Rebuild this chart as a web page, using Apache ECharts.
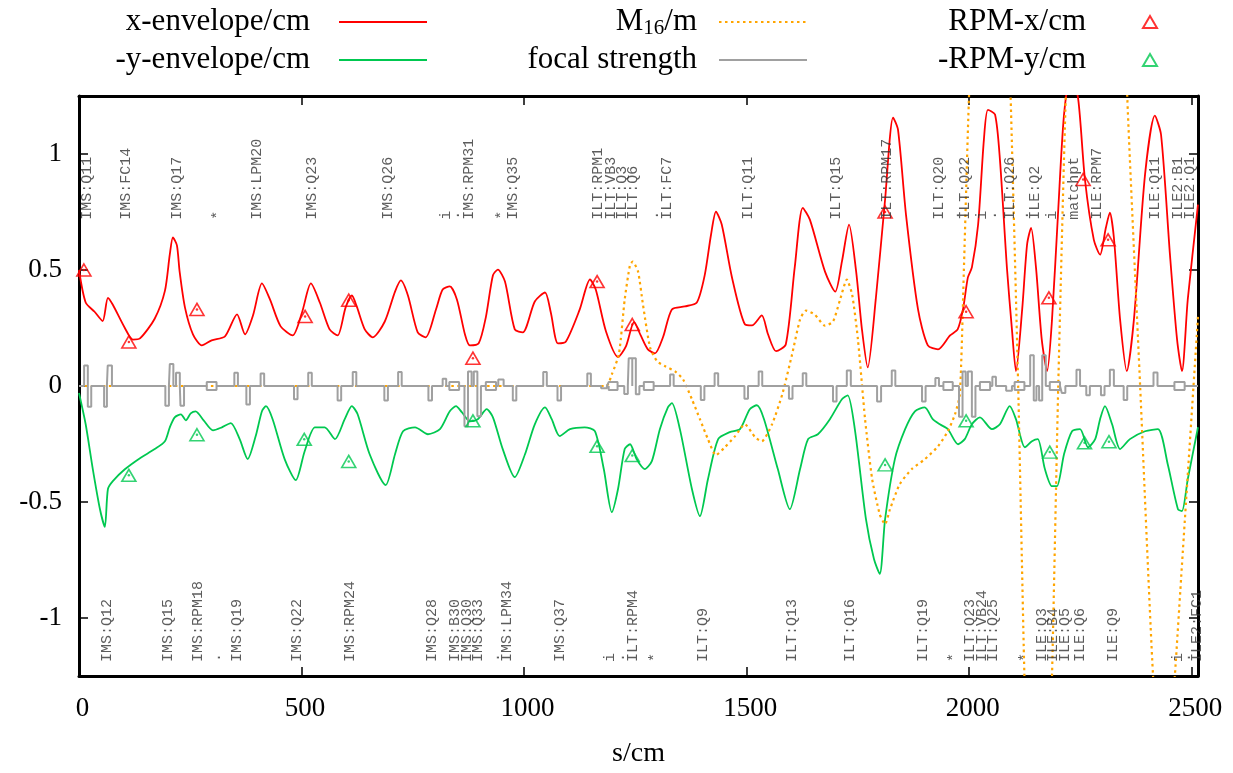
<!DOCTYPE html>
<html><head><meta charset="utf-8">
<script src="https://cdn.jsdelivr.net/npm/echarts@6/dist/echarts.min.js"></script>
<style>html,body{margin:0;padding:0;background:#fff}#c{width:1233px;height:773px}</style>
</head><body><div id="c"></div>
<script>
// ---------- data (s in cm) ----------
const xEnvelope = [[0,0.50],[15,0.36],[35,0.32],[53,0.28],[65,0.38],[76,0.35],[103,0.25],[121,0.20],[137,0.205],[170,0.29],[193,0.41],[204,0.567],[211,0.64],[220,0.606],[226,0.494],[238,0.339],[256,0.223],[276,0.175],[298,0.197],[328,0.214],[355,0.309],[373,0.223],[391,0.305],[411,0.442],[429,0.373],[453,0.257],[480,0.218],[501,0.317],[521,0.442],[541,0.36],[563,0.244],[581,0.218],[599,0.339],[613,0.39],[624,0.343],[642,0.244],[660,0.21],[687,0.278],[710,0.407],[723,0.455],[739,0.39],[761,0.231],[779,0.21],[802,0.33],[817,0.416],[833,0.429],[849,0.373],[867,0.223],[878,0.175],[898,0.184],[914,0.296],[930,0.477],[941,0.502],[957,0.45],[979,0.244],[997,0.231],[1024,0.364],[1047,0.403],[1060,0.317],[1076,0.184],[1094,0.192],[1125,0.33],[1148,0.459],[1161,0.416],[1184,0.235],[1211,0.125],[1229,0.172],[1247,0.275],[1262,0.218],[1278,0.158],[1294,0.141],[1312,0.21],[1332,0.33],[1361,0.343],[1388,0.36],[1406,0.48],[1420,0.653],[1431,0.751],[1444,0.696],[1467,0.468],[1496,0.266],[1512,0.261],[1534,0.304],[1548,0.223],[1566,0.15],[1588,0.18],[1608,0.511],[1626,0.768],[1642,0.717],[1676,0.493],[1699,0.407],[1714,0.536],[1730,0.696],[1746,0.493],[1759,0.244],[1772,0.08],[1790,0.373],[1811,0.804],[1829,1.157],[1840,1.105],[1858,0.738],[1885,0.33],[1907,0.175],[1930,0.158],[1957,0.218],[1974,0.244],[1986,0.33],[1997,0.468],[2006,0.511],[2020,0.696],[2033,1.062],[2042,1.19],[2058,1.17],[2069,0.976],[2085,0.502],[2096,0.244],[2105,0.064],[2119,0.33],[2130,0.61],[2139,0.682],[2150,0.511],[2163,0.2],[2175,0.064],[2186,0.286],[2200,0.76],[2213,1.17],[2229,1.363],[2245,1.234],[2260,0.89],[2280,0.63],[2294,0.566],[2307,0.682],[2316,0.747],[2325,0.64],[2339,0.286],[2354,0.064],[2370,0.286],[2395,0.911],[2417,1.165],[2431,1.083],[2451,0.566],[2467,0.2],[2478,0.064],[2491,0.373],[2514,0.782]];

const yEnvelope = [[0,-0.03],[15,-0.165],[31,-0.358],[47,-0.53],[58,-0.607],[65,-0.444],[76,-0.41],[103,-0.359],[137,-0.311],[170,-0.272],[193,-0.238],[204,-0.178],[215,-0.135],[229,-0.122],[240,-0.148],[251,-0.118],[262,-0.109],[280,-0.148],[301,-0.191],[321,-0.178],[341,-0.16],[361,-0.229],[379,-0.315],[397,-0.216],[411,-0.109],[420,-0.087],[435,-0.143],[462,-0.315],[487,-0.406],[507,-0.281],[530,-0.178],[552,-0.178],[575,-0.229],[597,-0.143],[613,-0.087],[626,-0.122],[653,-0.294],[689,-0.427],[710,-0.294],[728,-0.195],[755,-0.178],[784,-0.208],[811,-0.186],[833,-0.109],[847,-0.087],[860,-0.113],[878,-0.152],[896,-0.143],[916,-0.1],[930,-0.135],[952,-0.272],[979,-0.393],[1002,-0.294],[1024,-0.165],[1047,-0.092],[1062,-0.143],[1080,-0.216],[1103,-0.186],[1136,-0.178],[1159,-0.195],[1179,-0.358],[1197,-0.544],[1211,-0.444],[1226,-0.272],[1238,-0.251],[1253,-0.316],[1271,-0.358],[1287,-0.324],[1305,-0.186],[1323,-0.092],[1332,-0.074],[1350,-0.186],[1377,-0.444],[1395,-0.561],[1413,-0.402],[1436,-0.229],[1462,-0.199],[1485,-0.186],[1507,-0.1],[1523,-0.083],[1539,-0.143],[1570,-0.358],[1597,-0.531],[1620,-0.358],[1638,-0.229],[1660,-0.208],[1687,-0.143],[1714,-0.057],[1727,-0.04],[1743,-0.186],[1768,-0.574],[1786,-0.746],[1799,-0.81],[1811,-0.574],[1833,-0.315],[1856,-0.186],[1878,-0.109],[1900,-0.092],[1918,-0.143],[1934,-0.165],[1952,-0.186],[1975,-0.251],[1990,-0.229],[2006,-0.165],[2024,-0.135],[2051,-0.186],[2069,-0.165],[2091,-0.087],[2105,-0.143],[2125,-0.264],[2141,-0.238],[2154,-0.229],[2170,-0.358],[2186,-0.432],[2197,-0.432],[2213,-0.294],[2231,-0.195],[2249,-0.186],[2267,-0.264],[2283,-0.229],[2294,-0.143],[2305,-0.087],[2321,-0.165],[2339,-0.272],[2361,-0.229],[2395,-0.195],[2424,-0.186],[2446,-0.337],[2469,-0.531],[2478,-0.539],[2491,-0.402],[2514,-0.178]];

const m16 = [[0,0],[1184,0],[1197,0.05],[1213,0.137],[1226,0.373],[1238,0.523],[1244,0.536],[1256,0.493],[1267,0.351],[1283,0.166],[1299,0.106],[1317,0.085],[1339,0.063],[1357,0.029],[1377,-0.057],[1395,-0.143],[1413,-0.229],[1431,-0.298],[1451,-0.264],[1474,-0.216],[1496,-0.165],[1519,-0.221],[1534,-0.238],[1557,-0.165],[1580,-0.036],[1602,0.136],[1620,0.287],[1633,0.325],[1653,0.308],[1676,0.26],[1694,0.278],[1710,0.373],[1725,0.459],[1737,0.394],[1750,0.201],[1766,-0.143],[1782,-0.402],[1799,-0.553],[1811,-0.596],[1822,-0.531],[1844,-0.423],[1871,-0.358],[1900,-0.316],[1930,-0.26],[1952,-0.195],[1968,-0.122],[1979,-0.036],[1988,0.5],[1997,1.1],[2006,1.6],[2025,2.4],[2050,2.7],[2075,2.4],[2093,1.25],[2110,0],[2124,-1.25],[2140,-2.3],[2155,-2.6],[2170,-2.3],[2186,-1.25],[2200,0],[2217,1.25],[2250,3.0],[2287,3.8],[2325,3.0],[2355,1.25],[2384,0],[2413,-1.25],[2438,-1.9],[2462,-1.25],[2478,-0.77],[2514,0.3]];

// quadrupoles: [start, end, strength]
const quads = [[11.5,19.8,0.088],[19.8,27.5,-0.089],[56.4,62.7,-0.089],[64.5,74,0.088],[194,202,-0.085],[204,212,0.095],[218,226.5,0.057],[228,236,-0.085],[349,357,0.057],[376,384,-0.08],[408,416,0.054],[483,491,-0.057],[515,523,0.057],[581,589,-0.062],[615,623,0.06],[686,694,-0.062],[717,725,0.06],[785,793,-0.062],[817,825,0.031],[866,874,-0.174],[874,882,0.062],[887,895,0.062],[895,903,-0.13],[942,954,0.028],[974.6,982.5,-0.062],[1043,1051,0.06],[1075,1083,-0.062],[1142,1150,0.054],[1173,1186,-0.01],[1225,1233,-0.034],[1235,1243,0.12],[1243,1251,0.12],[1251,1259,-0.036],[1328,1336,0.05],[1397,1405,-0.06],[1428,1436,0.055],[1495,1503,-0.055],[1527,1535,0.063],[1595,1603,-0.055],[1626,1634,0.055],[1694,1702,-0.067],[1725,1734,0.067],[1793,1802,-0.067],[1826,1834,0.067],[1894,1902,-0.067],[1924,1932,0.034],[1977,1985,-0.133],[1985,1992,0.063],[1997,2006,0.063],[2006,2014,-0.133],[2052,2060,0.04],[2083,2096,-0.02],[2137,2145,0.133],[2145,2151,-0.063],[2157,2164,-0.063],[2164,2172,0.133],[2208,2216,-0.03],[2241,2249,0.07],[2263,2271,-0.04],[2296,2304,-0.04],[2316,2325,0.07],[2347,2355,-0.06],[2414,2423,0.058]];
// bends: [start, end]
const bends = [[287,309],[832,854],[914,937],[1190,1210],[1269,1291],[1942,1963],[2024,2047],[2102,2124],[2181,2204],[2461,2484]];
const bendHalfHeight = 0.017;

const rpmX = [[11,0.50],[112,0.19],[265,0.33],[508,0.30],[606,0.37],[885,0.12],[1164,0.45],[1243,0.265],[1811,0.75],[1993,0.32],[2179,0.38],[2256,0.89],[2312,0.63]];
const rpmY = [[112,-0.385],[265,-0.21],[506,-0.23],[606,-0.325],[885,-0.15],[1164,-0.26],[1243,-0.30],[1811,-0.34],[1993,-0.15],[2181,-0.285],[2259,-0.245],[2314,-0.24]];

const topLabelPos  = [17.5,105,220,312,399,523,694,824,845,876,950,975,1166,1195,1220,1244,1292,1321,1503,1701,1815,1932,1968,1990,2029,2052,2092,2124,2148,2186,2207,2236,2287,2418,2469,2496];
const topLabelText = ['IMS:Q11','IMS:FC14','IMS:Q17','*','IMS:LPM20','IMS:Q23','IMS:Q26','i','.','IMS:RPM31','*','IMS:Q35','ILT:RPM1','ILT:VB3','ILT:Q3','ILT:Q6','.','ILT:FC7','ILT:Q11','ILT:Q15','ILT:RPM17','ILT:Q20','.','ILT:Q22','i','.','ILT:Q26','.','ILE:Q2','i','.','matchpt','ILE:RPM7','ILE:Q11','ILE2:B1','ILE2:Q1'];
const topLabelY = 0.717;
const botLabelPos  = [62.5,200,267,308,355,489,608,793,845,871,896,935,961,1080,1193,1216,1244,1294,1402,1602,1732,1896,1966,2002,2029,2053,2125,2164,2188,2215,2249,2323,2469,2487,2512];
const botLabelText = ['IMS:Q12','IMS:Q15','IMS:RPM18','.','IMS:Q19','IMS:Q22','IMS:RPM24','IMS:Q28','IMS:B30','IMS:Q30','IMS:Q33','.','IMS:LPM34','IMS:Q37','i','.','ILT:RPM4','*','ILT:Q9','ILT:Q13','ILT:Q16','ILT:Q19','*','ILT:Q23','ILT:VB24','ILT:Q25','*','ILE:Q3','ILE:B4','ILE:Q5','ILE:Q6','ILE:Q9','i','.','ILE2:FC1'];
const botLabelY = -1.19;

const sMin = 0, sMax = 2514, yMin = -1.25, yMax = 1.25;

// ---------- build focal-strength polyline ----------
const elems = quads.map(q => ({s0:q[0], s1:q[1], k:q[2], box:false}))
  .concat(bends.map(b => ({s0:b[0], s1:b[1], box:true})))
  .sort((a,b) => a.s0 - b.s0);
const focal = [[sMin,0]];
elems.forEach(e => {
  if (e.box) {
    const h = bendHalfHeight;
    focal.push([e.s0,0],[e.s0,h],[e.s1,h],[e.s1,-h],[e.s0,-h],[e.s0,0],[e.s0,'-'],[e.s1,0]);
  } else {
    focal.push([e.s0,0],[e.s0,e.k],[e.s1,e.k],[e.s1,0]);
  }
});
focal.push([sMax,0]);

const mkLabels = (pos, txt, y) => pos.map((s,i) => ({name: txt[i], value:[s, y]}));

const SERIF = "'Liberation Serif','Times New Roman',serif";
const RED = '#ff0000', GREEN = '#00c850', ORANGE = '#ffa500', GRAY = '#a0a0a0';

const tickStyle = {show:true, inside:true, length:9, lineStyle:{color:'#000', width:1.5}};
const lineAxis = {show:true, onZero:false, lineStyle:{color:'#000', width:3}};

const legendBase = {orient:'horizontal', align:'right', padding:0, itemGap:0, selectedMode:false,
  itemWidth:88, itemHeight:14};
const legText = (pad) => ({fontFamily:SERIF, fontSize:31, color:'#000', lineHeight:34, padding:[0,pad,0,0],
  rich:{sub:{fontFamily:SERIF, fontSize:21, lineHeight:8, verticalAlign:'bottom', padding:[0,0,0,0]}}});
const hideSym = {itemStyle:{opacity:0}};

const option = {
  animation:false,
  backgroundColor:'#fff',
  grid:{left:79, right:35, top:96, bottom:96, containLabel:false},
  legend:[
    Object.assign({}, legendBase, hideSym, {data:['x-envelope/cm'], right:805, top:5, textStyle:legText(24)}),
    Object.assign({}, legendBase, hideSym, {data:['-y-envelope/cm'], right:805, top:43, textStyle:legText(24)}),
    Object.assign({}, legendBase, hideSym, {data:['M16/m'], right:425, top:5, textStyle:legText(17),
      formatter: n => 'M{sub|16}/m'}),
    Object.assign({}, legendBase, hideSym, {data:['focal strength'], right:425, top:43, textStyle:legText(17)}),
    Object.assign({}, legendBase, {data:['RPM-x/cm'], right:75, top:5, itemWidth:14, itemHeight:12, textStyle:legText(52)}),
    Object.assign({}, legendBase, {data:['-RPM-y/cm'], right:75, top:43, itemWidth:14, itemHeight:12, textStyle:legText(52)})
  ],
  xAxis:[
    {type:'value', min:sMin, max:sMax, position:'bottom',
     axisLine:lineAxis, axisTick:tickStyle, splitLine:{show:false},
     axisLabel:{fontFamily:SERIF, fontSize:27, color:'#000', margin:19, padding:[0,0,0,7],
       formatter: v => (v % 500 === 0 ? String(v) : '')},
     name:'s/cm', nameLocation:'middle', nameGap:64,
     nameTextStyle:{fontFamily:SERIF, fontSize:28, color:'#000'}},
    {type:'value', min:sMin, max:sMax, position:'top',
     axisLine:lineAxis, axisTick:tickStyle, splitLine:{show:false}, axisLabel:{show:false}}
  ],
  yAxis:[
    {type:'value', min:yMin, max:yMax, position:'left',
     axisLine:lineAxis, axisTick:tickStyle, splitLine:{show:false},
     axisLabel:{fontFamily:SERIF, fontSize:27, color:'#000', margin:17,
       formatter: v => (Math.abs(v*2 - Math.round(v*2)) < 1e-9 ? String(v) : '')}},
    {type:'value', min:yMin, max:yMax, position:'right',
     axisLine:lineAxis, axisTick:tickStyle, splitLine:{show:false}, axisLabel:{show:false}}
  ],
  series:[
    {name:'x-envelope/cm', type:'line', data:xEnvelope, symbol:'none', smooth:0.25,
     lineStyle:{color:RED, width:1.8}, itemStyle:{color:RED}, z:3},
    {name:'-y-envelope/cm', type:'line', data:yEnvelope, symbol:'none', smooth:0.25,
     lineStyle:{color:GREEN, width:1.8}, itemStyle:{color:GREEN}, z:3},
    {name:'M16/m', type:'line', data:m16, symbol:'none', smooth:0.2,
     lineStyle:{color:ORANGE, width:2.2, type:[2.5,3.5]}, itemStyle:{color:ORANGE}, z:4},
    {name:'focal strength', type:'line', data:focal, symbol:'none', connectNulls:false,
     lineStyle:{color:GRAY, width:2}, itemStyle:{color:GRAY}, z:5},
    {name:'RPM-x/cm', type:'scatter', data:rpmX, symbol:'triangle', symbolSize:[14,12],
     itemStyle:{color:'rgba(255,255,255,0)', borderColor:RED, borderWidth:1.6}, z:6},
    {name:'-RPM-y/cm', type:'scatter', data:rpmY, symbol:'triangle', symbolSize:[14,12],
     itemStyle:{color:'rgba(255,255,255,0)', borderColor:GREEN, borderWidth:1.6}, z:6},
    {name:'rpmXdot', type:'scatter', data:rpmX, symbol:'circle', symbolSize:2.5,
     itemStyle:{color:RED}, z:6, silent:true},
    {name:'rpmYdot', type:'scatter', data:rpmY, symbol:'circle', symbolSize:2.5,
     itemStyle:{color:GREEN}, z:6, silent:true},
    {name:'topLabels', type:'scatter', data:mkLabels(topLabelPos, topLabelText, topLabelY),
     symbolSize:0.1, itemStyle:{color:'rgba(0,0,0,0)'}, silent:true, z:7,
     label:{show:true, position:'inside', rotate:90, align:'left', verticalAlign:'middle',
       formatter:'{b}', fontFamily:"'Liberation Mono',monospace", fontSize:15, color:'#333'}},
    {name:'botLabels', type:'scatter', data:mkLabels(botLabelPos, botLabelText, botLabelY),
     symbolSize:0.1, itemStyle:{color:'rgba(0,0,0,0)'}, silent:true, z:7,
     label:{show:true, position:'inside', rotate:90, align:'left', verticalAlign:'middle',
       formatter:'{b}', fontFamily:"'Liberation Mono',monospace", fontSize:15, color:'#333'}}
  ]
};
const chart = echarts.init(document.getElementById('c'), null, {renderer:'canvas'});
chart.setOption(option);
</script>
</body></html>
